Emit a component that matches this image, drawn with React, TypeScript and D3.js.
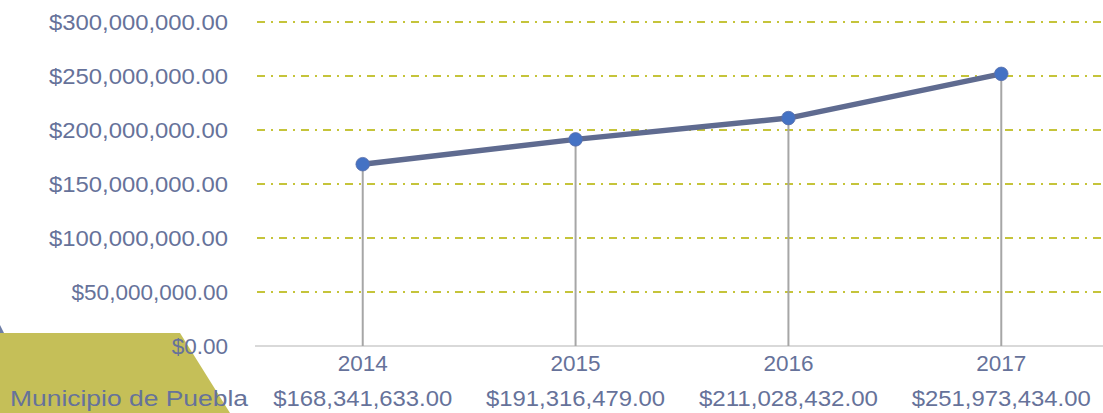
import React from "react";
import * as d3 from "d3";

const years = ["2014", "2015", "2016", "2017"];
const values = [168341633, 191316479, 211028432, 251973434];
const yTicks = [0, 50000000, 100000000, 150000000, 200000000, 250000000, 300000000];
const seriesName = "Municipio de Puebla";

const W = 1103;
const H = 413;
const FONT = "'Liberation Sans', Arial, sans-serif";
const TEXT = "#66729a";
const FS = 22.5;

export default function App() {
  const x = d3.scaleBand<string>().domain(years).range([256.3, 1107.7]);
  const y = d3.scaleLinear().domain([0, 300000000]).range([346, 22]);
  const money = (v: number) => "$" + d3.format(",.2f")(v);
  const cx = (d: string) => (x(d) as number) + x.bandwidth() / 2;
  const line = d3
    .line<number>()
    .x((_, i) => cx(years[i]))
    .y((v) => y(v));

  return (
    <svg
      width={W}
      height={H}
      style={{ position: "fixed", left: 0, top: 0, background: "#fff" }}
      fontFamily={FONT}
    >
      <polygon points="0,333 180,333 230,413 0,413" fill="#c5bf58" />
      <polygon points="0,325 4,333 0,333" fill="#6e7ea6" />
      {yTicks.map((t) =>
        t === 0 ? null : (
          <line
            key={t}
            x1={256}
            x2={W}
            y1={y(t)}
            y2={y(t)}
            stroke="#c5c43a"
            strokeWidth={2}
            strokeDasharray="8 6 2 6"
            strokeDashoffset={-1}
          />
        )
      )}
      {yTicks.map((t) => {
        const s = money(t);
        return (
          <text
            key={"l" + t}
            x={228}
            y={y(t)}
            dy="0.36em"
            textAnchor="end"
            fontSize={FS}
            fill={TEXT}
            textLength={s.length === 15 ? 179 : undefined}
            lengthAdjust="spacingAndGlyphs"
          >
            {s}
          </text>
        );
      })}
      <line x1={255} x2={W} y1={346} y2={346} stroke="#d9d9d9" strokeWidth={2} />
      {years.map((yr, i) => (
        <line
          key={"d" + yr}
          x1={cx(yr)}
          x2={cx(yr)}
          y1={y(values[i])}
          y2={346}
          stroke="#a6a6a6"
          strokeWidth={2}
        />
      ))}
      <path d={line(values) || ""} fill="none" stroke="#5f6b90" strokeWidth={5.5} strokeLinejoin="round" />
      {years.map((yr, i) => (
        <circle key={"c" + yr} cx={cx(yr)} cy={y(values[i])} r={6.8} fill="#4472c4" stroke="#5b6fa8" strokeWidth={0.8} />
      ))}
      {years.map((yr) => (
        <text key={"y" + yr} x={cx(yr)} y={371} textAnchor="middle" fontSize={FS} fill={TEXT}>
          {yr}
        </text>
      ))}
      <text x={10} y={406} fontSize={FS} fill={TEXT} textLength={238} lengthAdjust="spacingAndGlyphs">
        {seriesName}
      </text>
      {years.map((yr, i) => (
        <text
          key={"v" + yr}
          x={cx(yr)}
          y={406}
          textAnchor="middle"
          fontSize={FS}
          fill={TEXT}
          textLength={179}
          lengthAdjust="spacingAndGlyphs"
        >
          {money(values[i])}
        </text>
      ))}
    </svg>
  );
}
